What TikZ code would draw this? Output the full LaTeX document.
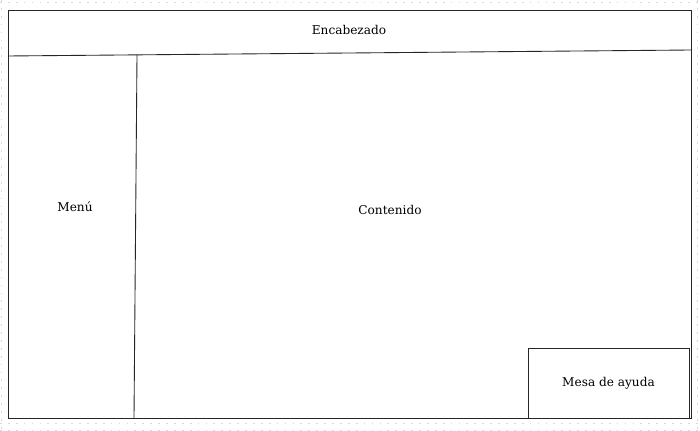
\documentclass[tikz,border=0pt]{standalone}
\usepackage{fontspec}
\setmainfont{DejaVu Serif}
\usepackage{tikz}
\usetikzlibrary{positioning, calc}
\definecolor{gridgray}{rgb}{0.85, 0.85, 0.85}

\begin{document}
\begin{tikzpicture}[x=0.02cm, y=-0.02cm,
    every node/.style={font=\fontsize{6.9}{8}\selectfont},
    pencil/.style={draw=black!85, line width=0.5pt},
    gridline/.style={draw=gridgray, line width=0.5pt, dash pattern=on 1pt off 3.5pt}]
\useasboundingbox (0,0) rectangle (700,431);

\foreach \x in {1, 697}
\draw [gridline] (\x, 0) -- (\x, 431);

\foreach \y in {2, 423, 430}
\draw [gridline] (0, \y) -- (700, \y);

% marco
\draw [pencil, fill=white] (8,10) rectangle (691,418);

\coordinate (cabIzq) at (8,56);
\coordinate (cabDer) at (692,50);
\coordinate (menuArr) at (137,55);
\coordinate (menuAba) at (134,418);
\draw [pencil] (cabIzq) -- (cabDer);
\draw [pencil] (menuArr) -- (menuAba);

\node (encabezado) at (349,30) {Encabezado};
\node (menu) at (75,207) {Menú};
\node (contenido) at (390,210) {Contenido};

\node [pencil, fill=white, minimum width=161*0.02cm, minimum height=70*0.02cm, inner sep=0pt] (mesa) at (608.5,383) {Mesa de ayuda};
\end{tikzpicture}
\end{document}
